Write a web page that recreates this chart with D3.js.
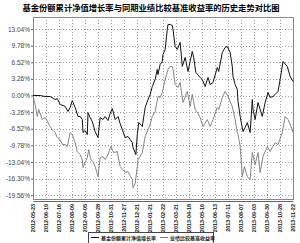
<!DOCTYPE html>
<html>
<head>
  <meta charset="utf-8">
  <style>
    body { margin: 0; background: #fff; }
    #viz { width: 300px; height: 243px; }
    text { font-family: "Liberation Sans", sans-serif; }
  </style>
</head>
<body>
  <div id="viz"></div>
  <script src="https://d3js.org/d3.v7.min.js"></script>
  <script>
    // [trading day, cumulative return %]
    let fund = [
      [0, 0], [10, 0], [17, -0.2], [24, -0.2], [31, -0.79], [34, -0.59], [38, -1.77], [42, -1.96],
      [45, -2.16], [49, -3.14], [52, -2.36], [55, -0.98], [59, -2.36], [63, -4.12], [66, -4.12],
      [69, -4.71], [70, -7.27], [73, -6.87], [76, -7.66], [77, -3.34], [80, -4.32], [83, -5.11],
      [87, -7.07], [91, -8.25], [94, -4.32], [98, -4.71], [101, -4.12], [105, -4.91], [108, -3.54],
      [111, -2.55], [115, -4.71], [119, -4.12], [122, -5.5], [125, -6.68], [129, -8.25], [133, -8.05],
      [136, -8.64], [139, -9.23], [140, -10.21], [144, -11.59], [146, -7.66], [148, -5.3], [153, -6.09],
      [157, -2.36], [161, -0.79], [164, 0.2], [167, 1.77], [171, 3.14], [174, 5.11], [175, 4.12],
      [178, 6.09], [181, 6.68], [182, 8.05], [185, 9.03], [188, 12.96], [189, 13.94], [192, 13.94],
      [195, 13.75], [196, 12.96], [199, 9.62], [202, 9.03], [206, 10.41], [209, 5.7], [213, 7.46],
      [217, 4.71], [220, 6.68], [223, 8.64], [225, 7.46], [228, 4.52], [234, 3.54], [237, 3.14],
      [241, 1.77], [245, 3.54], [248, 2.16], [252, 2.55], [258, 5.5], [260, 4.71], [265, 8.45],
      [269, 9.43], [272, 9.62], [276, 8.45], [279, 5.7], [280, 3.73], [283, 2.16], [286, 1.18],
      [287, -1.18], [290, -4.12], [294, -7.07], [297, -6.28], [300, -5.3], [304, -7.27], [307, -0.79],
      [308, -2.75], [311, -4.71], [315, -1.37], [321, -4.12], [325, -1.37], [329, 0.59], [332, -0.39],
      [336, -0.2], [339, 0.2], [343, 0.79], [346, 3.14], [350, 6.68], [356, 5.7], [360, 3.73], [364, 2.75]
    ];

    let bench = [
      [0, 0], [3, -1.77], [6, -4.12], [8, -2.75], [13, -4.71], [17, -4.32], [21, -5.3], [24, -6.09],
      [27, -6.68], [31, -7.27], [34, -8.25], [38, -8.64], [41, -9.62], [45, -9.62], [48, -10.02],
      [52, -7.27], [55, -7.66], [59, -9.23], [62, -11.0], [66, -11.59], [69, -12.57], [70, -14.14],
      [73, -13.16], [76, -12.18], [78, -10.61], [81, -12.57], [84, -12.96], [87, -13.94], [91, -15.91],
      [94, -12.18], [98, -11.98], [101, -12.57], [105, -11.59], [109, -10.02], [113, -11.19],
      [118, -11.0], [122, -13.94], [126, -14.53], [129, -15.12], [133, -14.93], [136, -15.71],
      [139, -16.5], [140, -18.07], [143, -17.28], [146, -13.94], [147, -12.57], [153, -11.19],
      [157, -8.05], [161, -6.68], [164, -5.7], [167, -4.12], [171, -3.14], [175, -0.2], [178, -0.39],
      [181, 0.59], [185, 3.14], [189, 5.11], [192, 5.7], [195, 5.7], [196, 5.11], [199, 2.16],
      [203, 1.57], [206, 2.55], [210, -1.37], [216, 0.79], [220, -2.16], [223, 0.2], [227, -2.75],
      [231, -3.54], [234, -4.32], [238, -6.09], [244, -4.71], [248, -6.09], [252, -4.71], [258, -2.36],
      [260, -2.75], [265, -0.39], [269, 0.79], [273, -0.2], [279, -2.16], [283, -4.71], [286, -7.27],
      [287, -7.66], [290, -10.02], [293, -15.91], [296, -13.94], [300, -15.91], [304, -16.5],
      [307, -11.19], [311, -13.55], [315, -11.19], [318, -15.12], [322, -11.98], [328, -10.02],
      [332, -11.0], [335, -10.21], [339, -9.23], [343, -9.62], [349, -7.27], [353, -4.12],
      [357, -4.71], [363, -6.68], [364, -7.27]
    ];

    let yTicks = [13.04, 9.78, 6.52, 3.26, 0, -3.26, -6.52, -9.78, -13.04, -16.30, -19.56];

    let xLabels = [
      '2012-05-23', '2012-06-19', '2012-07-16', '2012-08-09', '2012-09-05', '2012-09-28',
      '2012-10-31', '2012-11-27', '2012-12-21', '2013-01-21', '2013-02-22', '2013-03-21',
      '2013-04-18', '2013-05-16', '2013-06-13', '2013-07-11', '2013-08-07', '2013-09-03',
      '2013-09-30', '2013-10-28', '2013-11-22'
    ];

    let title = '基金份额累计净值增长率与同期业绩比较基准收益率的历史走势对比图';
    let legendNames = ['基金份额累计净值增长率', '业绩比较基准收益率'];

    let margin = { top: 17, right: 7, bottom: 44, left: 33 },
      width = 300 - margin.left - margin.right,
      height = 243 - margin.top - margin.bottom;

    let root = d3.select('#viz')
      .append('svg')
      .attr('width', 300)
      .attr('height', 243);

    root.append('text')
      .attr('x', 151)
      .attr('y', 11)
      .attr('text-anchor', 'middle')
      .style('font-family', '"Noto Sans CJK SC"')
      .style('font-weight', 'bold')
      .style('font-size', '8.3px')
      .text(title);

    let svg = root.append('g')
      .attr('transform', `translate(${margin.left}, ${margin.top})`);

    let x = d3.scaleLinear()
      .domain([0, 364])
      .range([0, width]);

    let y = d3.scaleLinear()
      .domain([-20.3, 15.4])
      .range([height, 0]);

    let xTickVals = xLabels.map((d, i) => i * 364 / (xLabels.length - 1));

    // grid
    svg.append('g')
      .selectAll('line')
      .data(yTicks)
      .join('line')
      .attr('x1', 0)
      .attr('x2', width)
      .attr('y1', d => Math.round(y(d)) + 0.5)
      .attr('y2', d => Math.round(y(d)) + 0.5)
      .attr('stroke', '#999')
      .attr('stroke-dasharray', '1,2');

    svg.append('g')
      .selectAll('line')
      .data(xTickVals)
      .join('line')
      .attr('x1', d => Math.round(x(d)) + 0.5)
      .attr('x2', d => Math.round(x(d)) + 0.5)
      .attr('y1', 0)
      .attr('y2', height)
      .attr('stroke', '#999')
      .attr('stroke-dasharray', '1,2');

    svg.append('rect')
      .attr('x', 0.5)
      .attr('y', 0.5)
      .attr('width', width)
      .attr('height', height)
      .attr('fill', 'none')
      .attr('stroke', '#888');

    // y axis
    let yAxis = svg.append('g')
      .call(d3.axisLeft(y).tickValues(yTicks).tickSize(2).tickFormat(d => d.toFixed(2) + '%'));
    yAxis.select('.domain').remove();
    yAxis.selectAll('line').attr('stroke', '#666');
    yAxis.selectAll('text')
      .attr('x', -3)
      .style('font-size', '6.5px')
      .style('fill', '#444');

    // x axis
    let xAxis = svg.append('g')
      .attr('transform', `translate(0, ${height + 2})`)
      .call(d3.axisBottom(x).tickValues(xTickVals).tickSize(0)
        .tickFormat((d, i) => xLabels[i]));
    xAxis.select('.domain').attr('stroke', '#666');
    xAxis.selectAll('text')
      .attr('transform', 'rotate(-90)')
      .attr('x', -3)
      .attr('y', 0)
      .attr('dy', '.35em')
      .attr('text-anchor', 'end')
      .style('font-size', '5.5px')
      .style('font-weight', 'bold')
      .style('fill', '#222');

    let line = d3.line()
      .x(d => x(d[0]))
      .y(d => y(d[1]));

    svg.append('path')
      .datum(bench)
      .attr('fill', 'none')
      .attr('stroke', '#777')
      .attr('stroke-width', 0.9)
      .attr('d', line);

    svg.append('path')
      .datum(fund)
      .attr('fill', 'none')
      .attr('stroke', '#111')
      .attr('stroke-width', 1)
      .attr('d', line);

    // legend
    let legend = root.append('g')
      .attr('transform', 'translate(88, 232)');

    legend.append('rect')
      .attr('x', 0.5)
      .attr('y', 0.5)
      .attr('width', 125)
      .attr('height', 12)
      .attr('fill', '#fff')
      .attr('stroke', '#444');

    let colors = ['#111', '#777'];
    let offsets = [3, 72];
    legendNames.forEach((name, i) => {
      legend.append('line')
        .attr('x1', offsets[i])
        .attr('x2', offsets[i] + 8)
        .attr('y1', 5.5)
        .attr('y2', 5.5)
        .attr('stroke', colors[i])
        .attr('stroke-width', 1);
      legend.append('text')
        .attr('x', offsets[i] + 10)
        .attr('y', 7.5)
        .style('font-family', '"Noto Sans CJK SC"')
        .style('font-size', '5px')
        .style('font-weight', 'bold')
        .style('fill', '#222')
        .text(name);
    });
  </script>
</body>
</html>
